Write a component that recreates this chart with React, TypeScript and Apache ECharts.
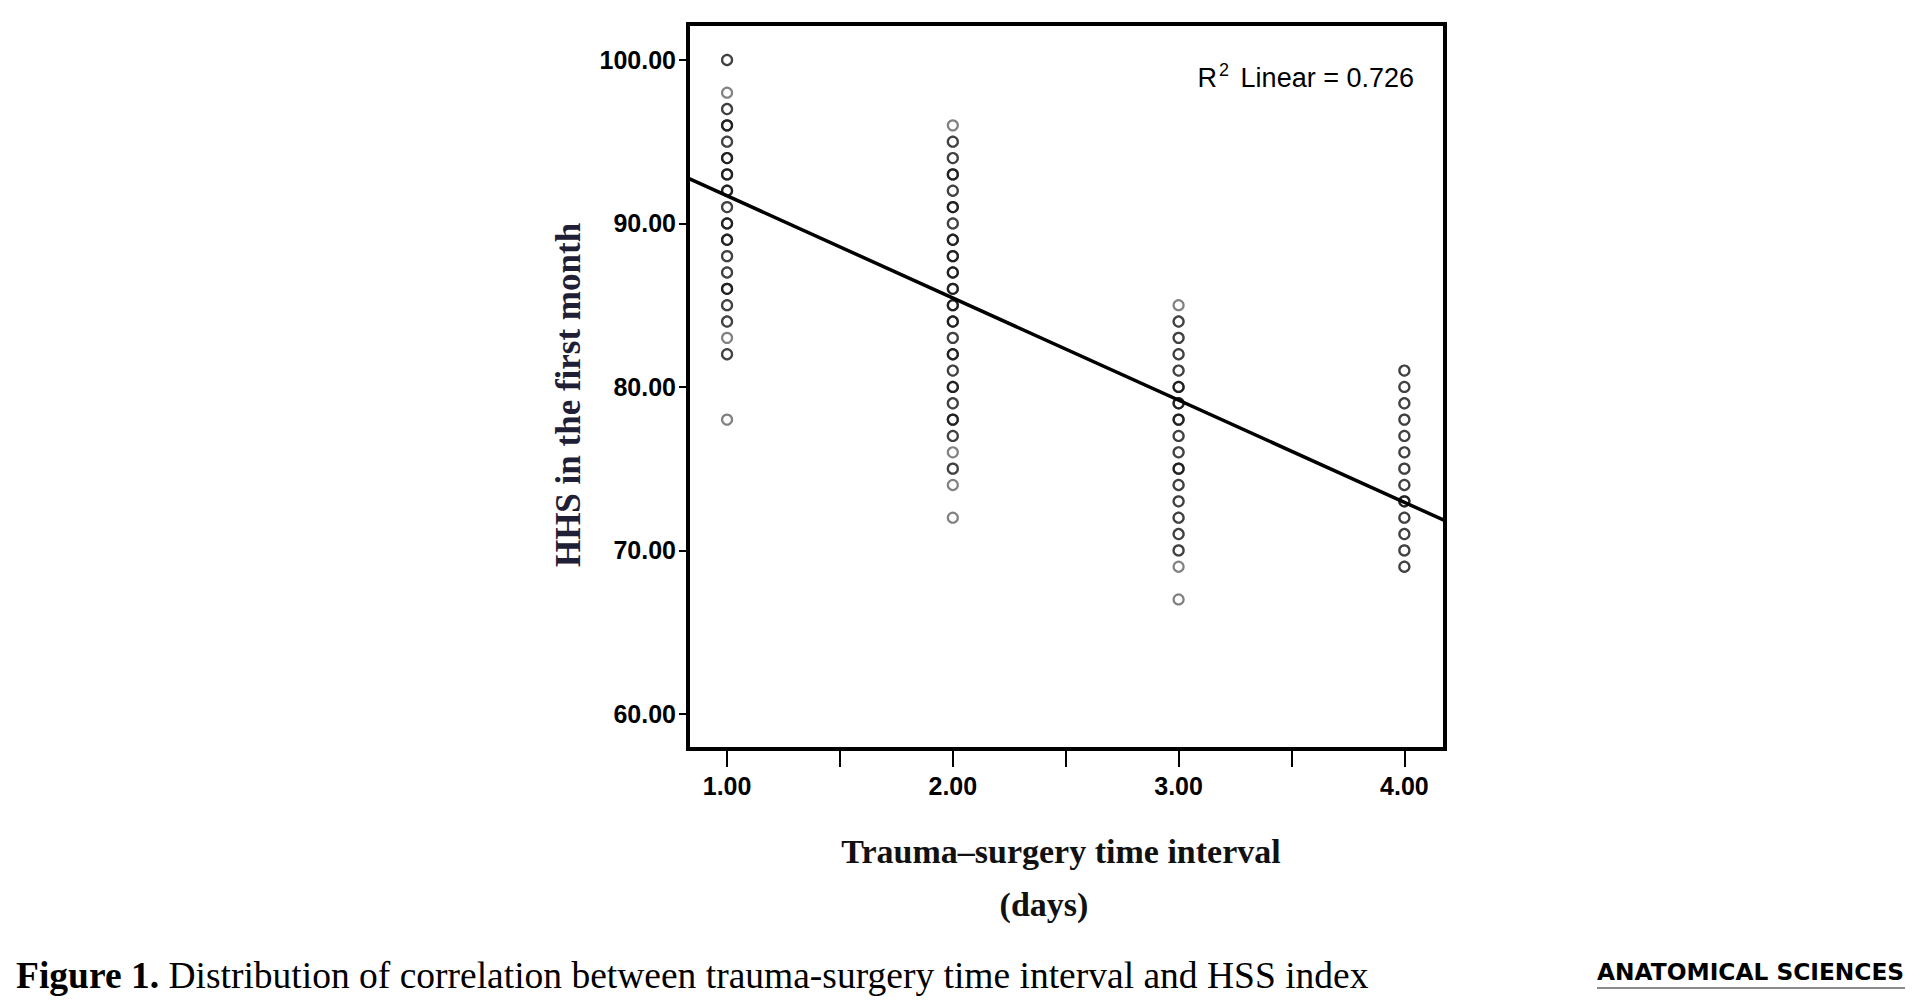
import React, { useEffect, useRef } from "react";
import * as echarts from "echarts";

// ---- Data ----
const groupX = [1, 2, 3, 4];

const group1Values = [100, 98, 97, 96, 95, 94, 93, 92, 91, 90, 89, 88, 87, 86, 85, 84, 83, 82, 78];
const group1Counts = [2, 1, 2, 3, 2, 3, 3, 3, 2, 3, 3, 2, 2, 3, 2, 2, 1, 2, 1];

const group2Values = [96, 95, 94, 93, 92, 91, 90, 89, 88, 87, 86, 85, 84, 83, 82, 81, 80, 79, 78, 77, 76, 75, 74, 72];
const group2Counts = [1, 2, 2, 3, 2, 3, 2, 3, 3, 3, 3, 3, 3, 2, 3, 2, 3, 2, 3, 2, 1, 2, 1, 1];

const group3Values = [85, 84, 83, 82, 81, 80, 79, 78, 77, 76, 75, 74, 73, 72, 71, 70, 69, 67];
const group3Counts = [1, 2, 2, 2, 2, 3, 3, 3, 2, 2, 3, 2, 2, 2, 2, 2, 1, 1];

const group4Values = [81, 80, 79, 78, 77, 76, 75, 74, 73, 72, 71, 70, 69];
const group4Counts = [2, 2, 2, 2, 2, 2, 2, 2, 3, 2, 2, 2, 2];

// Fit line
const fitIntercept = 97.94;
const fitSlope = -6.25;
const rSquaredText = "0.726";

// Axis ranges and ticks
const xMin = 0.827;
const xMax = 4.18;
const yMin = 57.85;
const yMax = 102.2;
const xTickValues = [1, 1.5, 2, 2.5, 3, 3.5, 4];
const xLabelValues = [1, 2, 3, 4];
const yTickValues = [60, 70, 80, 90, 100];

const yTitle = "HHS in the first month";
const xTitle = "Trauma\u2013surgery time interval";
const xTitle2 = "(days)";
const captionBold = "Figure 1.";
const captionText = "Distribution of correlation between trauma-surgery time interval and HSS index";
const logoText = "ANATOMICAL SCIENCES";

function buildPoints(x: number, values: number[], counts: number[]) {
  const pts: number[][] = [];
  values.forEach((v, i) => {
    for (let k = 0; k < counts[i]; k++) pts.push([x, v]);
  });
  return pts;
}

export default function App() {
  const ref = useRef<HTMLDivElement>(null);

  useEffect(() => {
    document.body.style.margin = "0";
    if (!ref.current) return;
    const chart = echarts.init(ref.current, undefined, { renderer: "svg" });

    const points = [
      ...buildPoints(groupX[0], group1Values, group1Counts),
      ...buildPoints(groupX[1], group2Values, group2Counts),
      ...buildPoints(groupX[2], group3Values, group3Counts),
      ...buildPoints(groupX[3], group4Values, group4Counts),
    ];
    const fitLine = [
      [xMin, fitIntercept + fitSlope * xMin],
      [xMax, fitIntercept + fitSlope * xMax],
    ];

    const tickFont = {
      fontFamily: "Liberation Sans",
      fontWeight: "bold" as const,
      fontSize: 25,
      color: "#000",
    };

    chart.setOption({
      animation: false,
      backgroundColor: "#fff",
      grid: {
        left: 688,
        top: 24,
        width: 757,
        height: 725,
        show: true,
        borderColor: "#000",
        borderWidth: 4,
        backgroundColor: "transparent",
      },
      xAxis: {
        type: "value",
        min: xMin,
        max: xMax,
        axisLine: { show: false },
        splitLine: { show: false },
        axisTick: {
          show: true,
          length: 18,
          customValues: xTickValues,
          lineStyle: { color: "#000", width: 2 },
        },
        axisLabel: {
          ...tickFont,
          margin: 24,
          customValues: xLabelValues,
          formatter: (v: number) => v.toFixed(2),
        },
      },
      yAxis: {
        type: "value",
        min: yMin,
        max: yMax,
        axisLine: { show: false },
        splitLine: { show: false },
        axisTick: {
          show: true,
          length: 9,
          customValues: yTickValues,
          lineStyle: { color: "#000", width: 2 },
        },
        axisLabel: {
          ...tickFont,
          margin: 12,
          customValues: yTickValues,
          formatter: (v: number) => v.toFixed(2),
        },
      },
      series: [
        {
          type: "scatter",
          data: points,
          symbol: "circle",
          symbolSize: 10,
          itemStyle: {
            color: "rgba(255,255,255,0)",
            borderColor: "rgba(0,0,0,0.62)",
            borderWidth: 2.2,
          },
          z: 2,
        },
        {
          type: "line",
          data: fitLine,
          showSymbol: false,
          symbol: "none",
          lineStyle: { color: "#000", width: 3.5 },
          clip: true,
          z: 3,
        },
      ],
      graphic: [
        {
          type: "text",
          x: 1414,
          y: 76,
          style: {
            text: "{r|R}{s|2}{r| Linear = " + rSquaredText + "}",
            align: "right",
            verticalAlign: "middle",
            rich: {
              r: { fontFamily: "Liberation Sans", fontSize: 27, lineHeight: 30, verticalAlign: "bottom", fill: "#000" },
              s: { fontFamily: "Liberation Sans", fontSize: 18, lineHeight: 30, verticalAlign: "top", padding: [0, 4, 0, 2], fill: "#000" },
            },
          },
        },
        {
          type: "text",
          x: 568,
          y: 395,
          rotation: Math.PI / 2,
          style: {
            text: yTitle,
            align: "center",
            verticalAlign: "middle",
            font: "bold 35px 'Liberation Serif'",
            fill: "#1f2035",
          },
        },
        {
          type: "text",
          x: 1061,
          y: 851,
          style: {
            text: xTitle,
            align: "center",
            verticalAlign: "middle",
            font: "bold 34px 'Liberation Serif'",
            fill: "#111",
          },
        },
        {
          type: "text",
          x: 1044,
          y: 904,
          style: {
            text: xTitle2,
            align: "center",
            verticalAlign: "middle",
            font: "bold 34px 'Liberation Serif'",
            fill: "#111",
          },
        },
        {
          type: "text",
          x: 16,
          y: 975,
          style: {
            text: "{b|" + captionBold + " }{r|" + captionText + "}",
            align: "left",
            verticalAlign: "middle",
            rich: {
              b: { fontFamily: "Liberation Serif", fontWeight: "bold", fontSize: 37.5, fill: "#000" },
              r: { fontFamily: "Liberation Serif", fontSize: 37.5, fill: "#000" },
            },
          },
        },
        {
          type: "text",
          x: 1597,
          y: 971,
          style: {
            text: logoText,
            align: "left",
            verticalAlign: "middle",
            font: "bold 23.3px 'DejaVu Sans'",
            fill: "#000",
          },
        },
        {
          type: "line",
          shape: { x1: 1597, y1: 988, x2: 1905, y2: 988 },
          style: { stroke: "#8a8a8a", lineWidth: 2 },
        },
      ],
    });

    return () => chart.dispose();
  }, []);

  return <div ref={ref} style={{ width: 1915, height: 1004 }} />;
}
